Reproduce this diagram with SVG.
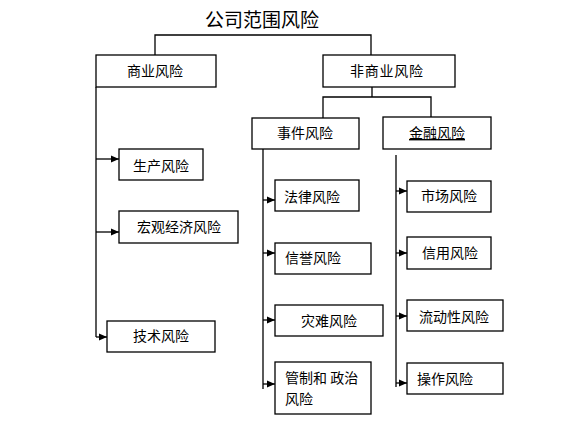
<svg xmlns="http://www.w3.org/2000/svg" width="587" height="427" viewBox="0 0 587 427">
<defs>
<style>
.box{fill:#fff;stroke:#000;stroke-width:1.3}
.ln{fill:none;stroke:#000;stroke-width:1.3}
text{font-family:"Noto Sans CJK SC","Noto Sans",sans-serif;font-size:14px;fill:#000}
.t{font-size:19px}
</style>
<marker id="ah" viewBox="0 0 8 8" refX="8" refY="4" markerWidth="8" markerHeight="8" markerUnits="userSpaceOnUse" orient="auto">
<path d="M0,0.5 L8,4 L0,7.5 Z" fill="#000"/>
</marker>
</defs>
<rect width="587" height="427" fill="#fff"/>
<text class="t" x="205" y="27">公司范围风险</text>
<g id="connectors">
<path class="ln" d="M155,55 V35 H371 V55"/>
<path class="ln" d="M372,87 V97 M323,118 V97 H431 V118"/>
<path class="ln" d="M96,87 V337"/>
<path class="ln" d="M96,159 H119" marker-end="url(#ah)"/>
<path class="ln" d="M96,232 H119" marker-end="url(#ah)"/>
<path class="ln" d="M96,337 H107" marker-end="url(#ah)"/>
<path class="ln" d="M263,149 V389"/>
<path class="ln" d="M263,200 H275" marker-end="url(#ah)"/>
<path class="ln" d="M263,253 H275" marker-end="url(#ah)"/>
<path class="ln" d="M263,320 H275" marker-end="url(#ah)"/>
<path class="ln" d="M263,384 H275" marker-end="url(#ah)"/>
<path class="ln" d="M396,155 V387"/>
<path class="ln" d="M396,191 H407" marker-end="url(#ah)"/>
<path class="ln" d="M396,253 H407" marker-end="url(#ah)"/>
<path class="ln" d="M396,316 H407" marker-end="url(#ah)"/>
<path class="ln" d="M396,383 H407" marker-end="url(#ah)"/>
</g>
<g id="n_shangye"><rect class="box" x="96" y="55" width="120" height="32"/><text x="127" y="76">商业风险</text></g>
<g id="n_feishangye"><rect class="box" x="323" y="55" width="132" height="32"/><text x="350" y="76" textLength="73">非商业风险</text></g>
<g id="n_shijian"><rect class="box" x="252" y="118" width="107" height="31"/><text x="277" y="138">事件风险</text></g>
<g id="n_jinrong"><rect class="box" x="383" y="117" width="108" height="32"/><text x="409" y="138" text-decoration="underline">金融风险</text></g>
<g id="n_shengchan"><rect class="box" x="119" y="149" width="84" height="31"/><text x="133" y="171">生产风险</text></g>
<g id="n_hongguan"><rect class="box" x="119" y="211" width="119" height="32"/><text x="137" y="232">宏观经济风险</text></g>
<g id="n_jishu"><rect class="box" x="107" y="321" width="108" height="31"/><text x="133" y="341">技术风险</text></g>
<g id="n_falv"><rect class="box" x="275" y="180" width="84" height="31"/><text x="284" y="202">法律风险</text></g>
<g id="n_xinyu"><rect class="box" x="275" y="243" width="96" height="31"/><text x="285" y="263">信誉风险</text></g>
<g id="n_zainan"><rect class="box" x="275" y="305" width="108" height="31"/><text x="301" y="326">灾难风险</text></g>
<g id="n_guanzhi"><rect class="box" x="275" y="362" width="96" height="52"/><text x="285" y="383">管制和 政治</text><text x="285" y="404">风险</text></g>
<g id="n_shichang"><rect class="box" x="407" y="181" width="84" height="31"/><text x="421" y="201">市场风险</text></g>
<g id="n_xinyong"><rect class="box" x="407" y="237" width="84" height="32"/><text x="422" y="258">信用风险</text></g>
<g id="n_liudong"><rect class="box" x="407" y="300" width="96" height="31"/><text x="419" y="322">流动性风险</text></g>
<g id="n_caozuo"><rect class="box" x="407" y="363" width="96" height="31"/><text x="417" y="384">操作风险</text></g>
</svg>
